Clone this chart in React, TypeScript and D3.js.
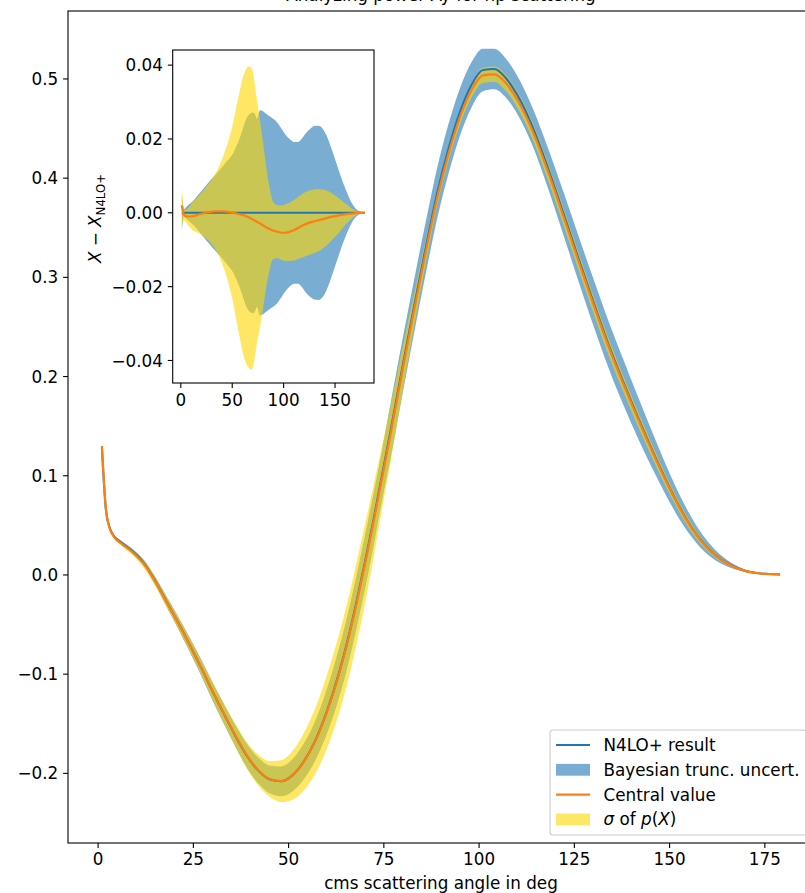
import React from "react";
import * as d3 from "d3";

// ---------- data ----------
const angles = [1, 2, 3, 4, 6, 9, 12, 15, 18, 21, 24, 27, 30, 33, 36, 39, 42, 45, 48, 51, 54, 57, 60, 63, 66, 68, 70, 72, 74, 77, 80, 83, 86, 89, 92, 95, 98, 101, 104, 107, 110, 114, 118, 122, 126, 130, 134, 138, 142, 146, 150, 154, 158, 162, 166, 170, 174, 179];

// N4LO+ result
const n4lo = [0.128, 0.068, 0.048, 0.04, 0.033, 0.024, 0.012, -0.006, -0.027, -0.048, -0.07, -0.093, -0.117, -0.14, -0.162, -0.182, -0.197, -0.206, -0.208, -0.202, -0.188, -0.167, -0.138, -0.102, -0.058, -0.024, 0.012, 0.05, 0.09, 0.15, 0.212, 0.272, 0.33, 0.385, 0.43, 0.467, 0.494, 0.509, 0.51, 0.501, 0.484, 0.452, 0.411, 0.366, 0.32, 0.275, 0.232, 0.193, 0.156, 0.121, 0.088, 0.059, 0.036, 0.02, 0.01, 0.004, 0.0015, 0.0005];

// Bayesian truncation uncertainty (half width)
const truncHalf = [0.005, 0.002, 0.001, 0.0012, 0.0018, 0.0025, 0.0033, 0.0042, 0.0052, 0.0062, 0.0072, 0.0082, 0.0092, 0.0101, 0.011, 0.012, 0.013, 0.014, 0.015, 0.0162, 0.018, 0.02, 0.0225, 0.025, 0.0265, 0.027, 0.0272, 0.0268, 0.0255, 0.0278, 0.0275, 0.0268, 0.0262, 0.0256, 0.025, 0.024, 0.0228, 0.0215, 0.0205, 0.0197, 0.0192, 0.0192, 0.0202, 0.0217, 0.0228, 0.0235, 0.0236, 0.0228, 0.0208, 0.0178, 0.0145, 0.0112, 0.008, 0.0052, 0.0028, 0.0012, 0.0004, 0];

// Central value minus N4LO+ result
const centralShift = [0.002, 0.0005, -0.0005, -0.0008, -0.001, -0.001, -0.0009, -0.0007, -0.0004, -0.0002, 0, 0.0002, 0.0003, 0.0004, 0.0004, 0.0004, 0.0004, 0.0003, 0.0002, 0, -0.0002, -0.0004, -0.0006, -0.0009, -0.0012, -0.0015, -0.0018, -0.0021, -0.0024, -0.0029, -0.0034, -0.0039, -0.0043, -0.0047, -0.005, -0.0052, -0.0054, -0.0054, -0.0053, -0.005, -0.0047, -0.0041, -0.0035, -0.003, -0.0026, -0.0023, -0.002, -0.0017, -0.0014, -0.0011, -0.0009, -0.0007, -0.0005, -0.0003, -0.0002, -0.0001, 0, 0];

// sigma of p(X) (half width)
const sigmaHalf = [0.005, 0.003, 0.0015, 0.0015, 0.002, 0.003, 0.004, 0.0045, 0.0052, 0.006, 0.0068, 0.0077, 0.0088, 0.01, 0.0115, 0.0133, 0.0155, 0.018, 0.021, 0.0245, 0.029, 0.033, 0.037, 0.0395, 0.0408, 0.041, 0.04, 0.037, 0.033, 0.028, 0.0225, 0.0165, 0.0115, 0.0082, 0.0073, 0.0072, 0.0074, 0.0076, 0.0078, 0.008, 0.0082, 0.0084, 0.0086, 0.0087, 0.0087, 0.0086, 0.0084, 0.008, 0.0074, 0.0066, 0.0056, 0.0046, 0.0035, 0.0024, 0.0014, 0.0007, 0.0002, 0];

const mainXTicks = [0, 25, 50, 75, 100, 125, 150, 175];
const mainYTicks = [-0.2, -0.1, 0, 0.1, 0.2, 0.3, 0.4, 0.5];
const insetXTicks = [0, 50, 100, 150];
const insetYTicks = [-0.04, -0.02, 0, 0.02, 0.04];

const titleText = "Analyzing power Ay for np scattering";
const xLabelText = "cms scattering angle in deg";
const legendLabels = ["N4LO+ result", "Bayesian trunc. uncert.", "Central value"];

const BLUE = "#1f77b4";
const ORANGE = "#ff7f0e";
const GOLD = "#ffd700";
const FONT = "DejaVu Sans, sans-serif";

type Row = { a: number; v: number; t: number; d: number; s: number };

export default function App() {
  const rows: Row[] = angles.map((a, i) => ({
    a,
    v: n4lo[i],
    t: truncHalf[i],
    d: centralShift[i],
    s: sigmaHalf[i],
  }));

  // main axes
  const L = 68, R = 814, T = 11, B = 843;
  const x = d3.scaleLinear().domain([-7.9, 187.9]).range([L, R]);
  const y = d3.scaleLinear().domain([-0.2702, 0.5685]).range([B, T]);

  // inset axes
  const iL = 172.7, iR = 374, iT = 50, iB = 383;
  const ix = d3.scaleLinear().domain([-7.9, 187.9]).range([iL, iR]);
  const iy = d3.scaleLinear().domain([-0.0461, 0.0441]).range([iB, iT]);

  const curve = d3.curveMonotoneX;

  const mainBlue = d3.area<Row>().x(r => x(r.a)).y0(r => y(r.v - r.t)).y1(r => y(r.v + r.t)).curve(curve)(rows) || "";
  const mainYellow = d3.area<Row>().x(r => x(r.a)).y0(r => y(r.v + r.d - r.s)).y1(r => y(r.v + r.d + r.s)).curve(curve)(rows) || "";
  const mainLine = d3.line<Row>().x(r => x(r.a)).y(r => y(r.v)).curve(curve)(rows) || "";
  const mainCentral = d3.line<Row>().x(r => x(r.a)).y(r => y(r.v + r.d)).curve(curve)(rows) || "";

  const inBlue = d3.area<Row>().x(r => ix(r.a)).y0(r => iy(-r.t)).y1(r => iy(r.t)).curve(curve)(rows) || "";
  const inYellow = d3.area<Row>().x(r => ix(r.a)).y0(r => iy(r.d - r.s)).y1(r => iy(r.d + r.s)).curve(curve)(rows) || "";
  const inLine = d3.line<Row>().x(r => ix(r.a)).y(() => iy(0)).curve(curve)(rows) || "";
  const inCentral = d3.line<Row>().x(r => ix(r.a)).y(r => iy(r.d)).curve(curve)(rows) || "";

  const fmt1 = d3.format(".1f");
  const fmt2 = d3.format(".2f");

  const tickLen = 4.9;
  const tickFont = 16.8;
  const labelFont = 16.8;

  // legend geometry
  const lgX = 550, lgY = 730, lgW = 256, lgH = 105;
  const rowY = (k: number) => lgY + 15 + k * 24.8;
  const hx0 = lgX + 6, hx1 = lgX + 40, tx = lgX + 53.5;

  return (
    <svg
      width={805}
      height={893}
      style={{ position: "absolute", left: 0, top: 0, background: "#fff" }}
      fontFamily={FONT}
    >
      <rect x={0} y={0} width={805} height={893} fill="#fff" />

      {/* title (cut off at the top edge, as in the reference) */}
      <text x={(L + R) / 2} y={0.5} fontSize={labelFont} textAnchor="middle" fill="#000">
        {titleText}
      </text>

      {/* main bands and lines */}
      <path d={mainBlue} fill={BLUE} fillOpacity={0.6} />
      <path d={mainYellow} fill={GOLD} fillOpacity={0.6} />
      <path d={mainLine} fill="none" stroke={BLUE} strokeWidth={2.1} />
      <path d={mainCentral} fill="none" stroke={ORANGE} strokeWidth={2.2} />

      {/* main spines */}
      <rect x={L} y={T} width={R - L} height={B - T} fill="none" stroke="#000" strokeWidth={1.1} />

      {/* main x ticks */}
      {mainXTicks.map(t => (
        <g key={"mx" + t}>
          <line x1={x(t)} x2={x(t)} y1={B} y2={B + tickLen} stroke="#000" strokeWidth={1.1} />
          <text x={x(t)} y={B + tickLen + 4.9 + 12.4} fontSize={tickFont} textAnchor="middle" fill="#000">
            {String(t)}
          </text>
        </g>
      ))}
      <text x={(L + R) / 2} y={889} fontSize={labelFont} textAnchor="middle" fill="#000">
        {xLabelText}
      </text>

      {/* main y ticks */}
      {mainYTicks.map(t => (
        <g key={"my" + t}>
          <line x1={L - tickLen} x2={L} y1={y(t)} y2={y(t)} stroke="#000" strokeWidth={1.1} />
          <text x={L - tickLen - 4.9} y={y(t)} dy="0.36em" fontSize={tickFont} textAnchor="end" fill="#000">
            {fmt1(t)}
          </text>
        </g>
      ))}

      {/* inset */}
      <rect x={iL} y={iT} width={iR - iL} height={iB - iT} fill="#fff" />
      <path d={inBlue} fill={BLUE} fillOpacity={0.6} />
      <path d={inYellow} fill={GOLD} fillOpacity={0.6} />
      <path d={inLine} fill="none" stroke={BLUE} strokeWidth={2.1} />
      <path d={inCentral} fill="none" stroke={ORANGE} strokeWidth={2.2} />
      <rect x={iL} y={iT} width={iR - iL} height={iB - iT} fill="none" stroke="#000" strokeWidth={1.1} />
      {insetXTicks.map(t => (
        <g key={"ix" + t}>
          <line x1={ix(t)} x2={ix(t)} y1={iB} y2={iB + tickLen} stroke="#000" strokeWidth={1.1} />
          <text x={ix(t)} y={iB + tickLen + 4.9 + 13.2} fontSize={tickFont} textAnchor="middle" fill="#000">
            {String(t)}
          </text>
        </g>
      ))}
      {insetYTicks.map(t => (
        <g key={"iy" + t}>
          <line x1={iL - tickLen} x2={iL} y1={iy(t)} y2={iy(t)} stroke="#000" strokeWidth={1.1} />
          <text x={iL - tickLen - 4.9} y={iy(t)} dy="0.36em" fontSize={tickFont} textAnchor="end" fill="#000">
            {fmt2(t)}
          </text>
        </g>
      ))}
      <text
        transform={`translate(${101},${(iT + iB) / 2 + 2}) rotate(-90)`}
        fontSize={labelFont}
        textAnchor="middle"
        fill="#000"
      >
        <tspan fontStyle="italic">X</tspan>
        <tspan>{" − "}</tspan>
        <tspan fontStyle="italic">X</tspan>
        <tspan fontSize={labelFont * 0.7} dy={3.5}>N4LO+</tspan>
      </text>

      {/* legend */}
      <rect x={lgX} y={lgY} width={lgW} height={lgH} rx={3} fill="#fff" fillOpacity={0.8} stroke="#cccccc" strokeWidth={1.1} />
      <line x1={hx0} x2={hx1} y1={rowY(0)} y2={rowY(0)} stroke={BLUE} strokeWidth={2.1} />
      <text x={tx} y={rowY(0)} dy="0.36em" fontSize={labelFont} fill="#000">{legendLabels[0]}</text>
      <rect x={hx0} y={rowY(1) - 5.9} width={hx1 - hx0} height={11.8} fill={BLUE} fillOpacity={0.6} />
      <text x={tx} y={rowY(1)} dy="0.36em" fontSize={labelFont} fill="#000">{legendLabels[1]}</text>
      <line x1={hx0} x2={hx1} y1={rowY(2)} y2={rowY(2)} stroke={ORANGE} strokeWidth={2.2} />
      <text x={tx} y={rowY(2)} dy="0.36em" fontSize={labelFont} fill="#000">{legendLabels[2]}</text>
      <rect x={hx0} y={rowY(3) - 5.9} width={hx1 - hx0} height={11.8} fill={GOLD} fillOpacity={0.6} />
      <text x={tx} y={rowY(3)} dy="0.36em" fontSize={labelFont} fill="#000">
        <tspan fontStyle="italic">σ</tspan>
        <tspan>{" of "}</tspan>
        <tspan fontStyle="italic">p</tspan>
        <tspan>(</tspan>
        <tspan fontStyle="italic">X</tspan>
        <tspan>)</tspan>
      </text>
    </svg>
  );
}
